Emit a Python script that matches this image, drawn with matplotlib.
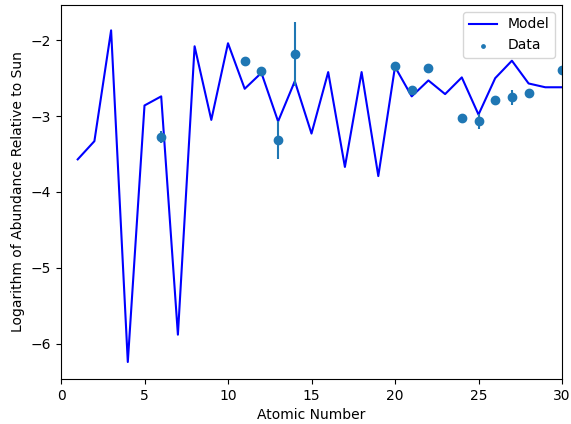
import matplotlib
matplotlib.use("Agg")
import matplotlib.pyplot as plt
import numpy as np

model_z = list(range(1, 31))
model_abund = [-3.57, -3.33, -1.87, -6.24, -2.86, -2.74, -5.88, -2.08, -3.05, -2.04,
               -2.64, -2.43, -3.07, -2.54, -3.23, -2.42, -3.67, -2.42, -3.79, -2.35,
               -2.74, -2.53, -2.71, -2.49, -2.98, -2.50, -2.27, -2.57, -2.62, -2.62]

data_z = [6, 11, 12, 13, 14, 20, 21, 22, 24, 25, 26, 27, 28, 30]
data_abund = [-3.27, -2.28, -2.40, -3.31, -2.18, -2.34, -2.65, -2.37, -3.02, -3.07,
              -2.79, -2.75, -2.70, -2.39]
data_err = [0.08, 0.03, 0.03, 0.25, 0.42, 0.03, 0.03, 0.03, 0.03, 0.10,
            0.03, 0.10, 0.03, 0.03]

fig = plt.figure(figsize=(5.71, 4.24), dpi=100)
ax = fig.add_axes([61/571, 1 - 379/424, (562-61)/571, (379-5)/424])

ax.plot(model_z, model_abund, color='blue', label='Model')
ax.errorbar(data_z, data_abund, yerr=data_err, fmt='o', color='C0')
ax.scatter(data_z, data_abund, s=6, color='C0', label='Data', zorder=0)

ax.set_xlim(0, 30)
ax.set_xlabel('Atomic Number')
ax.set_ylabel('Logarithm of Abundance Relative to Sun')
ax.legend(loc='upper right')

fig.savefig('out.png', dpi=100)
